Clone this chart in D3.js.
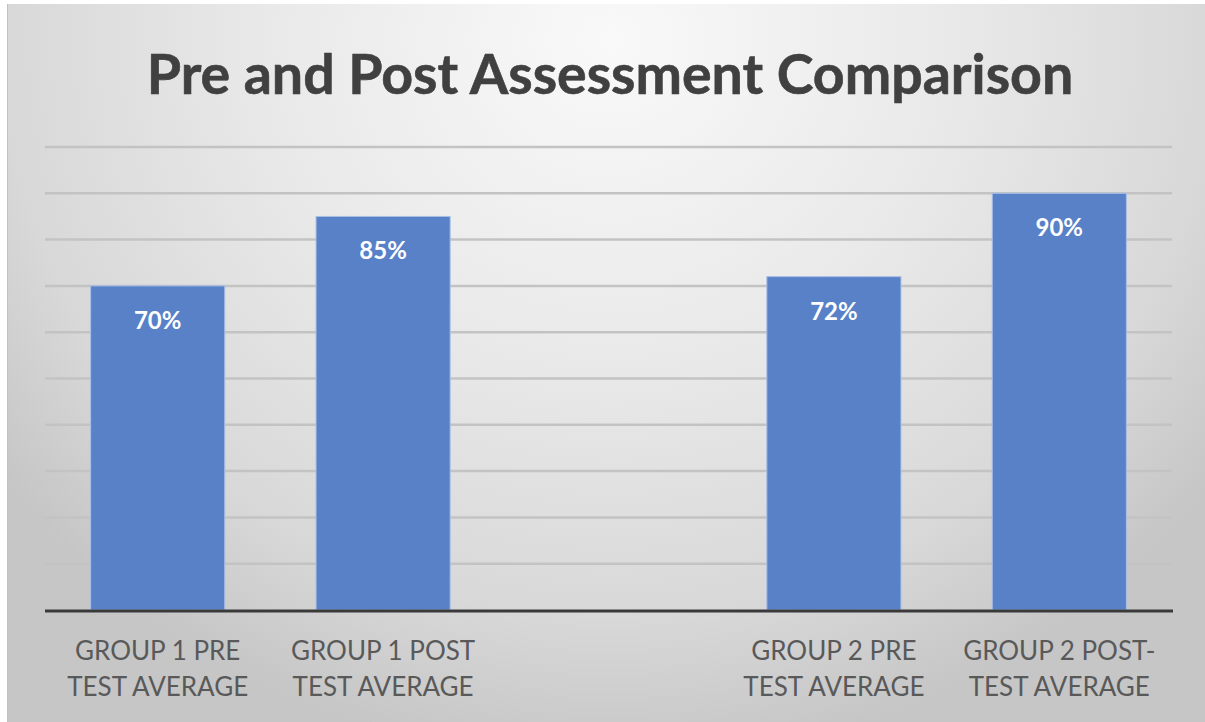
<!DOCTYPE html>
<html><head><meta charset="utf-8">
<script src="https://cdn.jsdelivr.net/npm/d3@7"></script>
<style>html,body{margin:0;padding:0;background:#fff;overflow:hidden}</style>
</head><body>
<script>
const title = "Pre and Post Assessment Comparison";
const categories = ["G1PRE","G1POST","GAP","G2PRE","G2POST"];
const labelLines = [["GROUP 1 PRE","TEST AVERAGE"],["GROUP 1 POST","TEST AVERAGE"],["",""],["GROUP 2 PRE","TEST AVERAGE"],["GROUP 2 POST-","TEST AVERAGE"]];
const values = [70, 85, null, 72, 90];
const yTicks = [0,10,20,30,40,50,60,70,80,90,100];

const W = 1205, H = 722;
const svg = d3.select("body").append("svg").attr("width", W).attr("height", H);
const defs = svg.append("defs");
const rg = defs.append("radialGradient").attr("id","bg")
  .attr("gradientUnits","userSpaceOnUse").attr("cx",610).attr("cy",40).attr("r",760)
  .attr("gradientTransform","translate(610,40) scale(1,0.95) translate(-610,-40)");
rg.append("stop").attr("offset","0").attr("stop-color","#f9f9f9");
rg.append("stop").attr("offset","0.45").attr("stop-color","#e9e9e9");
rg.append("stop").attr("offset","0.8").attr("stop-color","#d8d8d8");
rg.append("stop").attr("offset","1").attr("stop-color","#c6c6c6");

svg.append("rect").attr("x",7).attr("y",4).attr("width",W-7).attr("height",H-4).attr("fill","url(#bg)");
svg.append("line").attr("x1",7.5).attr("x2",7.5).attr("y1",4).attr("y2",H).attr("stroke","#c2c2c2").attr("stroke-width",1);

const x = d3.scaleBand().domain(categories).range([45,1172]).padding(0);
const y = d3.scaleLinear().domain([0,100]).range([610,147]);

// gridlines
svg.append("g").selectAll("line").data(yTicks.filter(d=>d>0)).join("line")
  .attr("x1",45).attr("x2",1172).attr("y1",d=>y(d)).attr("y2",d=>y(d))
  .attr("stroke","#c3c3c3").attr("stroke-width",2.5);

const bw = x.bandwidth()*0.595;
const bars = categories.map((c,i)=>({c, v: values[i]})).filter(d=>d.v!=null);
svg.append("g").selectAll("rect").data(bars).join("rect")
  .attr("x",d=>x(d.c)+x.bandwidth()/2-bw/2).attr("width",bw)
  .attr("y",d=>y(d.v)).attr("height",d=>y(0)-y(d.v))
  .attr("fill","#5881c8").attr("stroke","#a9bfe6").attr("stroke-width",1);

svg.append("g").selectAll("text").data(bars).join("text")
  .attr("x",d=>x(d.c)+x.bandwidth()/2).attr("y",d=>y(d.v)+43)
  .attr("text-anchor","middle").attr("font-family","Lato, 'Open Sans', sans-serif")
  .attr("font-weight","bold").attr("font-size",24).attr("fill","#ffffff")
  .text(d=>d.v+"%");

// baseline axis
svg.append("line").attr("x1",45).attr("x2",1173).attr("y1",y(0)+1).attr("y2",y(0)+1)
  .attr("stroke","#3a3a3a").attr("stroke-width",3);

// category labels
const lg = svg.append("g");
categories.forEach((c,i)=>{
  labelLines[i].forEach((t,j)=>{
    if(!t) return;
    lg.append("text").attr("x",x(c)+x.bandwidth()/2).attr("y",660+j*36)
      .attr("text-anchor","middle").attr("font-family","Lato, 'Open Sans', sans-serif")
      .attr("font-size",26).attr("fill","#595959").text(t);
  });
});

svg.append("text").attr("x",610).attr("y",94).attr("text-anchor","middle")
  .attr("font-family","Lato, 'Open Sans', sans-serif").attr("font-weight","bold")
  .attr("font-size",55.5).attr("fill","#404040").attr("stroke","#404040").attr("stroke-width",0.6)
  .text(title);
</script>
</body></html>
